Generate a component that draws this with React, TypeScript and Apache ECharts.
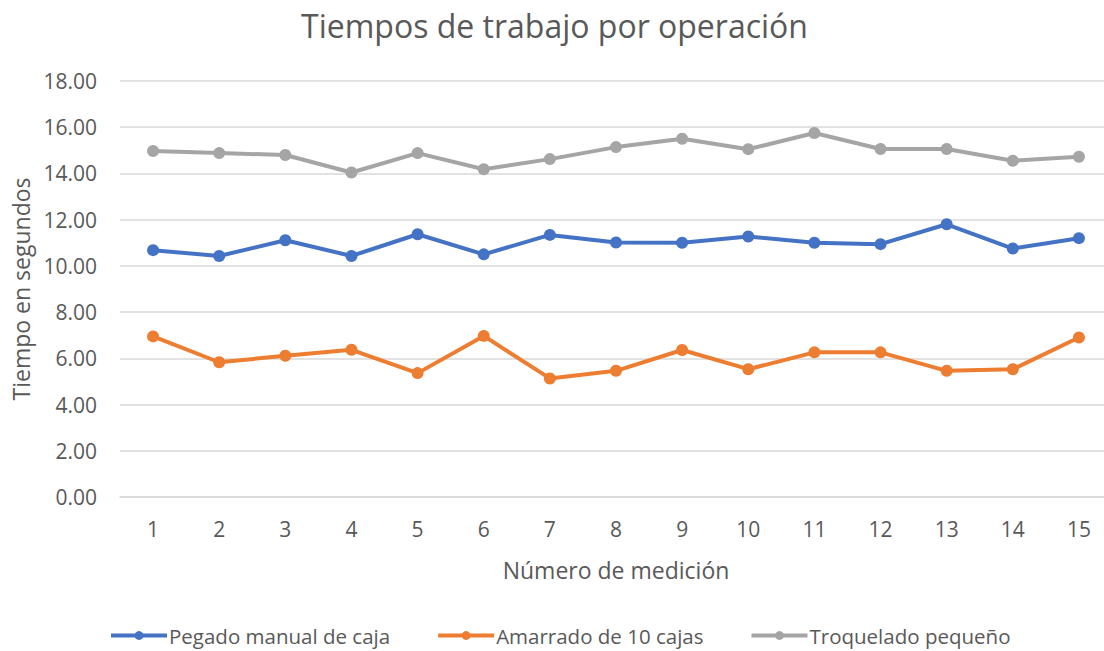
import React, { useEffect, useRef } from "react";
import * as echarts from "echarts";

const categories = ["1", "2", "3", "4", "5", "6", "7", "8", "9", "10", "11", "12", "13", "14", "15"];
const pegadoManual = [10.68, 10.43, 11.11, 10.43, 11.37, 10.5, 11.34, 11.01, 11.0, 11.27, 11.0, 10.94, 11.8, 10.75, 11.2];
const amarrado = [6.95, 5.83, 6.11, 6.37, 5.36, 6.97, 5.13, 5.46, 6.36, 5.53, 6.26, 6.26, 5.46, 5.53, 6.9];
const troquelado = [14.97, 14.88, 14.8, 14.04, 14.88, 14.18, 14.62, 15.14, 15.5, 15.05, 15.75, 15.06, 15.06, 14.55, 14.72];
const seriesNames = ["Pegado manual de caja", "Amarrado de 10 cajas", "Troquelado pequeño"];
const colors = ["#4472C4", "#ED7D31", "#A5A5A5"];

const FONT = "'Open Sans', sans-serif";
const TXT = "#595959";

export default function App() {
  const ref = useRef<HTMLDivElement>(null);
  useEffect(() => {
    document.body.style.margin = "0";
    const chart = echarts.init(ref.current!, undefined, { renderer: "svg" });
    const mk = (name: string, data: number[], color: string) => ({
      name,
      type: "line",
      data,
      symbol: "circle",
      symbolSize: 12,
      lineStyle: { width: 4, color },
      itemStyle: { color },
    });
    chart.setOption({
      animation: false,
      textStyle: { fontFamily: FONT },
      title: {
        text: "Tiempos de trabajo por operación",
        left: 296,
        top: 4,
        textStyle: { fontFamily: FONT, fontSize: 32, fontWeight: "normal", color: TXT },
      },
      legend: {
        top: 620,
        left: 104,
        itemWidth: 56,
        itemHeight: 11,
        itemGap: 46,
        lineStyle: { width: 4 },
        textStyle: { fontFamily: FONT, fontSize: 20.5, color: TXT, padding: [0, 0, 0, -3] },
        data: seriesNames,
      },
      grid: { left: 120, width: 992, top: 81, bottom: 154, containLabel: false },
      xAxis: {
        type: "category",
        data: categories,
        boundaryGap: true,
        name: "Número de medición",
        nameLocation: "middle",
        nameGap: 61,
        nameTextStyle: { fontFamily: FONT, fontSize: 23, color: TXT },
        axisLine: { lineStyle: { color: "#D9D9D9", width: 1.5 } },
        axisTick: { show: false },
        axisLabel: { fontFamily: FONT, fontSize: 21, color: TXT, margin: 21 },
      },
      yAxis: {
        type: "value",
        min: 0,
        max: 18,
        interval: 2,
        name: "Tiempo en segundos",
        nameLocation: "middle",
        nameGap: 86,
        nameTextStyle: { fontFamily: FONT, fontSize: 23, color: TXT },
        axisLine: { show: false },
        axisTick: { show: false },
        splitLine: { lineStyle: { color: "#D9D9D9", width: 1.5 } },
        axisLabel: {
          fontFamily: FONT,
          fontSize: 21,
          color: TXT,
          margin: 23,
          formatter: (v: number) => v.toFixed(2),
        },
      },
      series: [
        mk(seriesNames[0], pegadoManual, colors[0]),
        mk(seriesNames[1], amarrado, colors[1]),
        mk(seriesNames[2], troquelado, colors[2]),
      ],
    });
    return () => chart.dispose();
  }, []);
  return (
    <div style={{ width: 1104, height: 651, overflow: "hidden", position: "relative" }}>
      <div ref={ref} style={{ width: 1120, height: 651 }} />
    </div>
  );
}
